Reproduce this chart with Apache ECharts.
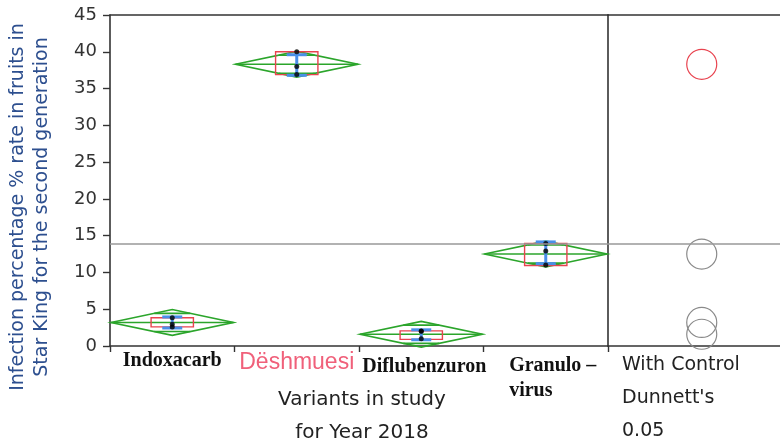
<!DOCTYPE html>
<html><head><meta charset="utf-8">
<script src="https://cdn.jsdelivr.net/npm/echarts@6/dist/echarts.min.js"></script>
<style>html,body{margin:0;padding:0;background:#fff}#c{width:780px;height:445px}</style>
</head><body><div id="c"></div>
<script>
// ---- data ----
const categories = ['Indoxacarb', 'Dëshmuesi', 'Diflubenzuron', 'Granulo –\nvirus'];
const means   = [3.2, 38.3, 1.6, 12.5];
const ciHalf  = [1.75, 1.75, 1.75, 1.75];
const boxLow  = [2.6, 36.9, 0.9, 10.95];
const boxHigh = [3.85, 40.0, 2.05, 13.95];
const errLow  = [2.45, 36.8, 0.85, 11.2];
const errHigh = [3.95, 39.6, 2.2, 14.15];
const rep1 = [3.85, 40.0, 2.05, 13.95];
const rep2 = [2.95, 38.0, 1.0, 12.9];
const rep3 = [2.6, 36.9, 2.0, 11.0];
const controlLimit = 13.9;
const circleRadius = [2.04, 2.04, 2.04, 2.04];
const isControl = [0, 1, 0, 0];
const yMin = 0, yMax = 45, yStep = 5;
const xTitle = 'Variants in study\nfor Year 2018';
const yTitle = 'Infection percentage % rate in fruits in\nStar King for the second generation';
const panelLabels = ['With Control', "Dunnett's", '0.05'];

// ---- build ----
const groupData = categories.map((c, i) => [i, means[i], ciHalf[i], boxLow[i], boxHigh[i], errLow[i], errHigh[i]]);
const pointData = [];
categories.forEach((c, i) => { pointData.push([i, rep1[i]], [i, rep2[i]], [i, rep3[i]]); });
const circleData = categories.map((c, i) => [0.545, means[i], circleRadius[i], isControl[i]]);

const green = '#2ba52b', red = '#e8434f', blue = '#4a8fe8';

function renderGroup(params, api) {
  const idx = api.value(0), m = api.value(1), ci = api.value(2);
  const c = api.coord([idx, m]);
  const band = api.size([1, 0])[0];
  const hw = band / 2 - 1;
  const cx = c[0];
  const top = api.coord([idx, m + ci])[1];
  const bot = api.coord([idx, m - ci])[1];
  const ovOff = (bot - top) / 2 * Math.SQRT1_2;
  const ovHw = hw * (1 - Math.SQRT1_2);
  const bxHw = band * 0.17;
  const bLo = api.coord([idx, api.value(3)])[1], bHi = api.coord([idx, api.value(4)])[1];
  const eLo = api.coord([idx, api.value(5)])[1], eHi = api.coord([idx, api.value(6)])[1];
  const capHw = 10;
  const gs = {stroke: green, lineWidth: 1.6, fill: 'none'};
  return {type: 'group', children: [
    {type: 'polygon', shape: {points: [[cx-hw, c[1]], [cx, top], [cx+hw, c[1]], [cx, bot]]}, style: gs},
    {type: 'line', shape: {x1: cx-hw, y1: c[1], x2: cx+hw, y2: c[1]}, style: gs},
    {type: 'line', shape: {x1: cx-ovHw, y1: c[1]-ovOff, x2: cx+ovHw, y2: c[1]-ovOff}, style: gs},
    {type: 'line', shape: {x1: cx-ovHw, y1: c[1]+ovOff, x2: cx+ovHw, y2: c[1]+ovOff}, style: gs},
    {type: 'rect', shape: {x: cx-bxHw, y: bHi, width: 2*bxHw, height: bLo-bHi}, style: {fill: 'none', stroke: red, lineWidth: 1.4}},
    {type: 'line', shape: {x1: cx, y1: eHi, x2: cx, y2: eLo}, style: {stroke: blue, lineWidth: 3}},
    {type: 'line', shape: {x1: cx-capHw, y1: eHi, x2: cx+capHw, y2: eHi}, style: {stroke: blue, lineWidth: 3}},
    {type: 'line', shape: {x1: cx-capHw, y1: eLo, x2: cx+capHw, y2: eLo}, style: {stroke: blue, lineWidth: 3}}
  ]};
}

function renderCircle(params, api) {
  const c = api.coord([api.value(0), api.value(1)]);
  const r = api.size([0, api.value(2)])[1];
  return {type: 'circle', shape: {cx: c[0], cy: c[1], r: r},
    style: {fill: 'none', stroke: api.value(3) ? '#e8434f' : '#8a8a8a', lineWidth: 1.2}};
}

const frame = {show: true, lineStyle: {color: '#333', width: 1.6}};
const chart = echarts.init(document.getElementById('c'), null, {renderer: 'canvas'});
chart.setOption({
  backgroundColor: '#fff',
  animation: false,
  grid: [
    {left: 110, top: 15, width: 498, height: 331, containLabel: false, outerBoundsMode: 'none'},
    {left: 608, top: 15, width: 172, height: 331, containLabel: false, outerBoundsMode: 'none'}
  ],
  xAxis: [
    {gridIndex: 0, type: 'category', data: categories, boundaryGap: true,
      axisLine: frame,
      axisTick: {show: true, length: 6, lineStyle: {color: '#333', width: 1.4}},
      axisLabel: {interval: 0, margin: 5, hideOverlap: false,
        formatter: (v, i) => '{s' + i + '|' + v + '}',
        rich: {
          s0: {fontFamily: 'Liberation Serif', fontWeight: 'bold', fontSize: 20, color: '#111'},
          s1: {fontFamily: 'Liberation Sans', fontSize: 23, color: '#f0607a'},
          s2: {fontFamily: 'Liberation Serif', fontWeight: 'bold', fontSize: 20, color: '#111', padding: [6, 0, 0, 6]},
          s3: {fontFamily: 'Liberation Serif', fontWeight: 'bold', fontSize: 20, color: '#111', lineHeight: 25, align: 'left', padding: [4, 0, 0, 14]}
        }},
      name: xTitle, nameLocation: 'middle', nameGap: 37, nameMoveOverlap: false,
      nameTextStyle: {fontFamily: 'DejaVu Sans', fontSize: 20, color: '#222', lineHeight: 33, padding: [0, 0, 0, 6]}
    },
    {gridIndex: 0, type: 'category', data: categories, position: 'top',
      axisLine: frame, axisTick: {show: false}, axisLabel: {show: false}},
    {gridIndex: 1, type: 'value', min: 0, max: 1, axisLine: frame,
      axisTick: {show: false}, axisLabel: {show: false}, splitLine: {show: false}},
    {gridIndex: 1, type: 'value', min: 0, max: 1, position: 'top', axisLine: frame,
      axisTick: {show: false}, axisLabel: {show: false}, splitLine: {show: false}}
  ],
  yAxis: [
    {gridIndex: 0, type: 'value', min: yMin, max: yMax, interval: yStep,
      axisLine: frame,
      axisTick: {show: true, length: 7, lineStyle: {color: '#333', width: 1.4}},
      axisLabel: {fontFamily: 'DejaVu Sans', fontSize: 18, color: '#333', margin: 13},
      splitLine: {show: false},
      name: yTitle, nameLocation: 'middle', nameGap: 56, nameRotate: 90, nameMoveOverlap: false,
      nameTextStyle: {fontFamily: 'DejaVu Sans', fontSize: 19, color: '#2d4f8f', lineHeight: 24, padding: [0, 53, 0, 0]}
    },
    {gridIndex: 1, type: 'value', min: yMin, max: yMax, interval: yStep,
      axisLine: frame, axisTick: {show: false}, axisLabel: {show: false}, splitLine: {show: false}}
  ],
  graphic: panelLabels.map((t, i) => ({
    type: 'text', left: 622, top: 356 + i * 33,
    style: {text: t, font: '19px "DejaVu Sans"', fill: '#222'}
  })),
  series: [
    {type: 'custom', xAxisIndex: 0, yAxisIndex: 0, data: groupData, renderItem: renderGroup, z: 2,
      markLine: {silent: true, symbol: 'none', label: {show: false},
        lineStyle: {color: '#999', width: 1.5, type: 'solid'}, data: [{yAxis: controlLimit}]}},
    {type: 'scatter', xAxisIndex: 0, yAxisIndex: 0, data: pointData, symbol: 'circle', symbolSize: 5,
      itemStyle: {color: '#000'}, z: 3},
    {type: 'custom', xAxisIndex: 2, yAxisIndex: 1, data: circleData, renderItem: renderCircle, z: 2,
      markLine: {silent: true, symbol: 'none', label: {show: false},
        lineStyle: {color: '#999', width: 1.5, type: 'solid'}, data: [{yAxis: controlLimit}]}}
  ]
});
</script></body></html>
